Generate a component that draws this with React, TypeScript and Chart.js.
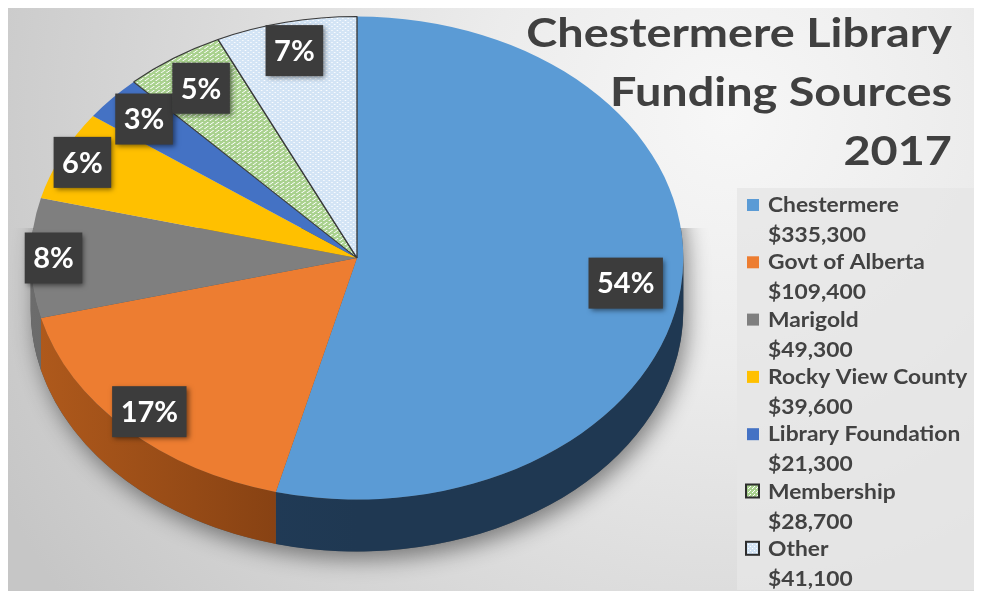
import React, { useEffect, useRef } from "react";
import { Chart, registerables } from "chart.js";

Chart.register(...registerables);

// Funding sources for 2017
const sources = [
  "Chestermere",
  "Govt of Alberta",
  "Marigold",
  "Rocky View County",
  "Library Foundation",
  "Membership",
  "Other",
];
const amounts = ["$335,300", "$109,400", "$49,300", "$39,600", "$21,300", "$28,700", "$41,100"];
const shares = [54, 17, 8, 6, 3, 5, 7];
const titleLines = ["Chestermere Library", "Funding Sources", "2017"];

const W = 969;
const H = 583;

const topColors = ["#5b9bd5", "#ed7d31", "#7f7f7f", "#ffc000", "#4472c4"];
// light/dark shade pairs for the cylinder wall of each slice
const wallShades: [string, string][] = [
  ["#24405e", "#1f3852"],
  ["#b05a1c", "#7a3a10"],
  ["#6c6c6c", "#555555"],
  ["#b58900", "#8a6800"],
  ["#30538f", "#26437a"],
  ["#7fa066", "#6b8a55"],
  ["#9fb4c9", "#8aa0b6"],
];
const DEPTH = 52;
const LABEL_RADIUS = [0.83, 0.9, 0.93, 0.93, 0.87, 0.85, 0.88];

function makePattern(bg: string, fg: string, dots: [number, number][]) {
  const c = document.createElement("canvas");
  c.width = 4;
  c.height = 4;
  const g = c.getContext("2d")!;
  g.fillStyle = bg;
  g.fillRect(0, 0, 4, 4);
  g.fillStyle = fg;
  dots.forEach(([x, y]) => g.fillRect(x, y, 1, 1));
  return g.createPattern(c, "repeat")!;
}

function stretchedText(
  ctx: CanvasRenderingContext2D,
  text: string,
  x: number,
  y: number,
  align: CanvasTextAlign,
  stretch: number
) {
  ctx.save();
  ctx.translate(x, y);
  ctx.scale(stretch, 1);
  ctx.textAlign = align;
  ctx.fillText(text, 0, 0);
  ctx.restore();
}

function pieFrame(chart: any) {
  const arcs = chart.getDatasetMeta(0).data as any[];
  const first = arcs[0];
  const { x, y, outerRadius } = first.getProps(["x", "y", "outerRadius"], true);
  const sx = chart.chartArea.width / chart.chartArea.height;
  return { arcs, cx: x, cy: y, R: outerRadius, sx };
}

const backdrop = {
  id: "backdrop",
  beforeDraw(chart: any) {
    const { ctx, width, height } = chart;
    ctx.save();
    const g = ctx.createRadialGradient(720, 110, 0, 720, 110, 820);
    g.addColorStop(0, "#f7f7f7");
    g.addColorStop(0.3, "#ececec");
    g.addColorStop(1, "#c6c6c6");
    ctx.fillStyle = g;
    ctx.fillRect(0, 0, width, height);
    ctx.fillStyle = "rgba(230,230,230,0.8)";
    ctx.fillRect(729, 180, 240, 402);
    ctx.restore();
  },
};

const pie3d = {
  id: "pie3d",
  beforeDatasetsDraw(chart: any) {
    const { ctx } = chart;
    const { arcs, cx, cy, R, sx } = pieFrame(chart);
    ctx.save();
    ctx.translate(cx, cy);
    ctx.scale(sx, 1);
    ctx.translate(-cx, -cy);

    // soft shadow under the base
    ctx.save();
    ctx.beginPath();
    ctx.rect(cx - 2 * R, cy - 30, 4 * R, 2 * R);
    ctx.clip();
    ctx.shadowColor = "rgba(0,0,0,0.45)";
    ctx.shadowBlur = 22;
    ctx.shadowOffsetX = 4;
    ctx.shadowOffsetY = 8;
    ctx.fillStyle = "#555";
    ctx.beginPath();
    ctx.arc(cx, cy + DEPTH, R, 0, Math.PI);
    ctx.arc(cx, cy, R, Math.PI, 2 * Math.PI);
    ctx.closePath();
    ctx.fill();
    ctx.restore();

    // cylinder wall along the front half
    arcs.forEach((el: any, i: number) => {
      const { startAngle, endAngle } = el.getProps(["startAngle", "endAngle"], true);
      const s = Math.max(startAngle, 0);
      const e = Math.min(endAngle, Math.PI);
      if (e <= s) return;
      const grad = ctx.createLinearGradient(cx - R, 0, cx, 0);
      grad.addColorStop(0, wallShades[i][0]);
      grad.addColorStop(1, wallShades[i][1]);
      ctx.fillStyle = grad;
      ctx.beginPath();
      ctx.arc(cx, cy, R, s, e);
      ctx.arc(cx, cy + DEPTH, R, e, s, true);
      ctx.closePath();
      ctx.fill();
    });
    // the transform stays active while Chart.js draws the top faces
  },
  afterDatasetsDraw(chart: any) {
    chart.ctx.restore();
  },
};

const annotations = {
  id: "annotations",
  afterDraw(chart: any) {
    const { ctx } = chart;
    const { arcs, R, sx } = pieFrame(chart);

    // percentage labels
    ctx.save();
    ctx.font = "bold 29px Lato";
    ctx.textBaseline = "middle";
    arcs.forEach((el: any, i: number) => {
      const { startAngle, endAngle, x, y } = el.getProps(["startAngle", "endAngle", "x", "y"], true);
      const mid = (startAngle + endAngle) / 2;
      const px = x + Math.cos(mid) * R * LABEL_RADIUS[i] * sx;
      const py = y + Math.sin(mid) * R * LABEL_RADIUS[i];
      const text = `${shares[i]}%`;
      const tw = ctx.measureText(text).width;
      const bw = tw + 17;
      const bh = 51;
      ctx.save();
      ctx.shadowColor = "rgba(0,0,0,0.5)";
      ctx.shadowBlur = 5;
      ctx.shadowOffsetX = 2;
      ctx.shadowOffsetY = 2;
      ctx.fillStyle = "#3c3c3c";
      ctx.fillRect(px - bw / 2, py - bh / 2, bw, bh);
      ctx.restore();
      ctx.fillStyle = "#ffffff";
      stretchedText(ctx, text, px, py + 1, "center", 1);
    });
    ctx.restore();

    // title
    ctx.save();
    ctx.font = "bold 40px Lato";
    ctx.fillStyle = "#404040";
    ctx.textBaseline = "alphabetic";
    titleLines.forEach((line, i) => {
      stretchedText(ctx, line, 944, 39 + i * 59, "right", 1.17);
    });
    ctx.restore();

    // legend
    const fills = chart.data.datasets[0].backgroundColor as any[];
    ctx.save();
    ctx.font = "bold 20px Lato";
    ctx.textBaseline = "alphabetic";
    sources.forEach((name, i) => {
      const base = 204 + i * 57.3;
      const patterned = i >= 5;
      ctx.fillStyle = fills[i];
      if (patterned) {
        ctx.fillRect(738, base - 14, 13, 13);
        ctx.strokeStyle = "#2e2e2e";
        ctx.lineWidth = 2;
        ctx.strokeRect(738, base - 14, 13, 13);
      } else {
        ctx.fillRect(739, base - 13, 12, 12);
      }
      ctx.fillStyle = "#424242";
      stretchedText(ctx, name, 760, base, "left", 1.14);
      stretchedText(ctx, amounts[i], 760, base + 30, "left", 1.14);
    });
    ctx.restore();
  },
};

export default function App() {
  const ref = useRef<HTMLCanvasElement>(null);

  useEffect(() => {
    const canvas = ref.current;
    if (!canvas) return;
    const fills: any[] = [
      ...topColors,
      makePattern("#a9d18e", "#ffffff", [[0, 0], [2, 2], [1, 3]]),
      makePattern("#d3e4f5", "#ffffff", [[0, 0], [2, 2]]),
    ];
    const chart = new Chart(canvas, {
      type: "pie",
      data: {
        labels: sources,
        datasets: [
          {
            data: shares,
            backgroundColor: fills,
            borderColor: "#3a3a3a",
            borderWidth: [0, 0, 0, 0, 0, 1, 1],
          },
        ],
      },
      options: {
        responsive: false,
        animation: false,
        events: [],
        layout: { padding: { left: 22, right: 293, top: 8, bottom: 91 } },
        plugins: {
          legend: { display: false },
          tooltip: { enabled: false },
        },
      },
      plugins: [backdrop, pie3d, annotations],
    });
    return () => chart.destroy();
  }, []);

  return <canvas ref={ref} width={W} height={H} style={{ display: "block", width: W, height: H }} />;
}
